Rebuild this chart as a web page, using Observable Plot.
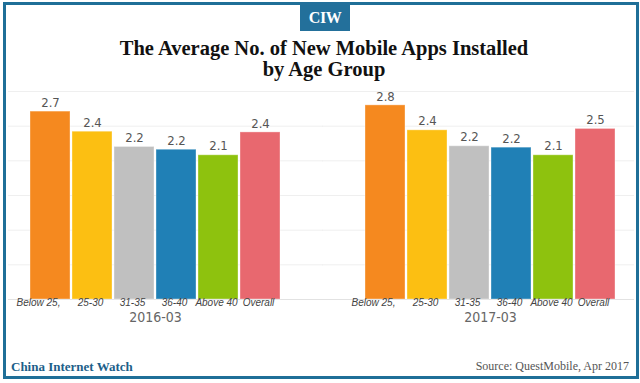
<!DOCTYPE html>
<html>
<head>
<meta charset="utf-8">
<script src="https://cdn.jsdelivr.net/npm/d3@7"></script>
<script src="https://cdn.jsdelivr.net/npm/@observablehq/plot@0.6"></script>
<style>
  html, body { margin: 0; padding: 0; background: #fff; }
  #page { position: relative; width: 640px; height: 383px; overflow: hidden; background: #fff; }
  #frame { position: absolute; left: 3px; top: 2px; width: 636px; height: 377px; box-sizing: border-box; border: 3px solid #1f6f98; }
  #logo { position: absolute; left: 300px; top: 2px; width: 50px; height: 29px; background: #23709b; color: #fff;
          font: bold 16px "Liberation Serif", "DejaVu Serif", serif; text-align: center; line-height: 31px; letter-spacing: -0.5px; }
  #title { position: absolute; left: 0; width: 648px; top: 38px; text-align: center; color: #111;
           font: bold 20.5px/21px "Liberation Serif", "DejaVu Serif", serif; }
  #chart { position: absolute; left: 0; top: 84px; }
  #brand { position: absolute; left: 11px; top: 360px; color: #1d5f8a; font: bold 13px/13px "Liberation Serif", serif; }
  #source { position: absolute; right: 11px; top: 360px; color: #555; font: 12px/13px "Liberation Serif", serif; }
</style>
</head>
<body>
<div id="page">
  <div id="frame"></div>
  <div id="logo">CIW</div>
  <div id="title">The Average No. of New Mobile Apps Installed<br>by Age Group</div>
  <div id="chart"></div>
  <div id="brand">China Internet Watch</div>
  <div id="source">Source: QuestMobile, Apr 2017</div>
</div>
<script>
const periods = ["2016-03", "2017-03"];
const ageGroups = ["Below 25,", "25-30", "31-35", "36-40", "Above 40", "Overall"];
const values2016 = [2.71, 2.42, 2.20, 2.16, 2.08, 2.41];
const values2017 = [2.80, 2.44, 2.21, 2.19, 2.08, 2.46];
const barColors = ["#f5891f", "#fcbf12", "#c0c0c0", "#2080b6", "#8ec20e", "#e8686f"];
const gridTicks = [0, 0.5, 1, 1.5, 2, 2.5, 3];

const rows = [];
[values2016, values2017].forEach((vals, i) => {
  vals.forEach((v, j) => rows.push({period: periods[i], age: ageGroups[j], value: v}));
});

const gridFor = (p) => gridTicks.map(t => ({period: p, t}));

const condensed = "'DejaVu Sans Condensed', 'DejaVu Sans', sans-serif";
const tickFont = {fill: "#444", fontSize: 10, fontStyle: "italic",
                  fontFamily: "'Liberation Sans', Arial, sans-serif", frameAnchor: "bottom", dy: 6};

const chart = Plot.plot({
  width: 640,
  height: 246,
  marginTop: 7,
  marginBottom: 31,
  marginLeft: 26,
  marginRight: 22,
  fx: {domain: periods, paddingInner: 0.2365, paddingOuter: 0, axis: null, label: null},
  x: {domain: ageGroups, paddingInner: 0.05, paddingOuter: 0.025, axis: null, label: null},
  y: {domain: [0, 3], axis: null},
  color: {domain: ageGroups, range: barColors},
  marks: [
    Plot.ruleY(gridFor(periods[0]), {y: "t", fx: "period", stroke: d => d.t === 0 ? "#e2e2e2" : "#efefef", insetLeft: -19, insetRight: -40}),
    Plot.ruleY(gridFor(periods[1]), {y: "t", fx: "period", stroke: d => d.t === 0 ? "#e2e2e2" : "#efefef", insetLeft: -40, insetRight: -16}),
    Plot.barY(rows, {x: "age", fx: "period", y: "value", fill: "age", stroke: "#fff", strokeOpacity: 0.35, strokeWidth: 1}),
    Plot.text(rows, {x: "age", fx: "period", y: "value", text: d => d.value.toFixed(1), dy: -9,
                     fill: "#555", fontSize: 13, fontFamily: condensed}),
    Plot.text(rows.filter(d => d.age === ageGroups[0]), {x: "age", fx: "period", text: "age", ...tickFont, dx: -12}),
    Plot.text(rows.filter(d => d.age !== ageGroups[0]), {x: "age", fx: "period", text: "age", ...tickFont, dx: -2}),
    Plot.text(periods, {fx: d => d, text: d => d, frameAnchor: "bottom", dy: 22,
                        fill: "#666", fontSize: 14, fontFamily: condensed})
  ]
});
document.getElementById("chart").appendChild(chart);
</script>
</body>
</html>
